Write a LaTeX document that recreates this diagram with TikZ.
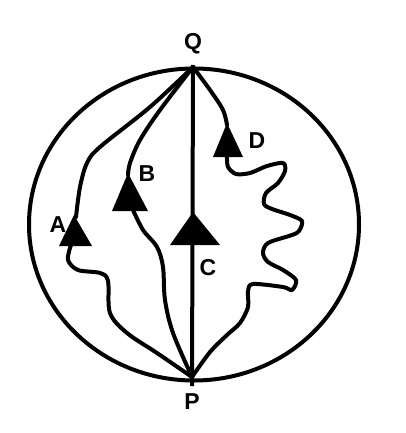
\documentclass[tikz,border=0pt]{standalone}
\usepackage{fontspec}
\setmainfont{Liberation Sans}
\begin{document}
\begin{tikzpicture}[x=1pt,y=-1pt,
  lbl/.style={font=\fontsize{23}{23}\selectfont\bfseries, inner sep=0pt},
  wire/.style={line width=4pt, line join=round, line cap=round},
  head/.style={fill=black, draw=none}]
\useasboundingbox (0,0) rectangle (406,433);
\fill[white] (0,0) rectangle (406,433);
% points
\coordinate (Q) at (193,67);
\coordinate (P) at (192,377);
% circle
\draw[wire] (194,224.5) ellipse [x radius=165, y radius=156];
% labels
\node[lbl] (lQ) at (193,44) {Q};
\node[lbl] (lP) at (192,402) {P};
\node[lbl] (lA) at (58,225) {A};
\node[lbl] (lB) at (147,174) {B};
\node[lbl] (lC) at (208,268) {C};
\node[lbl] (lD) at (257,141) {D};
% C straight
\draw[wire, line cap=butt] ([yshift=2pt]Q) -- ([yshift=-9pt]P);
% A curve
\draw[wire] plot[smooth, tension=0.55] coordinates {(Q) (150,107) (100,147) (87,163) (80,187) (76,217)};
\draw[wire] plot[smooth, tension=0.55] coordinates {(71,245) (68,260) (78,270) (100,273) (108,281) (110,313) (127,333) (157,353) (P)};
% B curve
\draw[wire] plot[smooth, tension=0.55] coordinates {(Q) (160,110) (140,140) (130,163) (128,175)};
\draw[wire] plot[smooth, tension=0.55] coordinates {(133,210) (143,230) (157,247) (163,267) (165,300) (173,333) (P)};
% D curve
\draw[wire] plot[smooth, tension=0.55] coordinates {(Q) (210,90) (223,110) (227,125)};
\draw[wire] plot[smooth, tension=0.5] coordinates {(227,157) (228,167) (236,174) (250,173) (267,166) (283,163) (285,171) (278,183) (266,193) (264,204) (272,209) (290,215) (302,221) (299,231) (292,235) (268,243) (263,253) (268,262) (283,270) (296,280) (292,290) (283,287) (253,284) (248,291) (248,307) (240,323) (227,335) (210,352) (P)};
% arrowheads
\fill[head] (74,215) -- (92,246) -- (59,246) -- cycle;
\fill[head] (128,173) -- (148,211) -- (112,211) -- cycle;
\fill[head] (193,212) -- (220,245) -- (170,245) -- cycle;
\fill[head] (227,123) -- (243,157) -- (213,157) -- cycle;
\end{tikzpicture}
\end{document}
